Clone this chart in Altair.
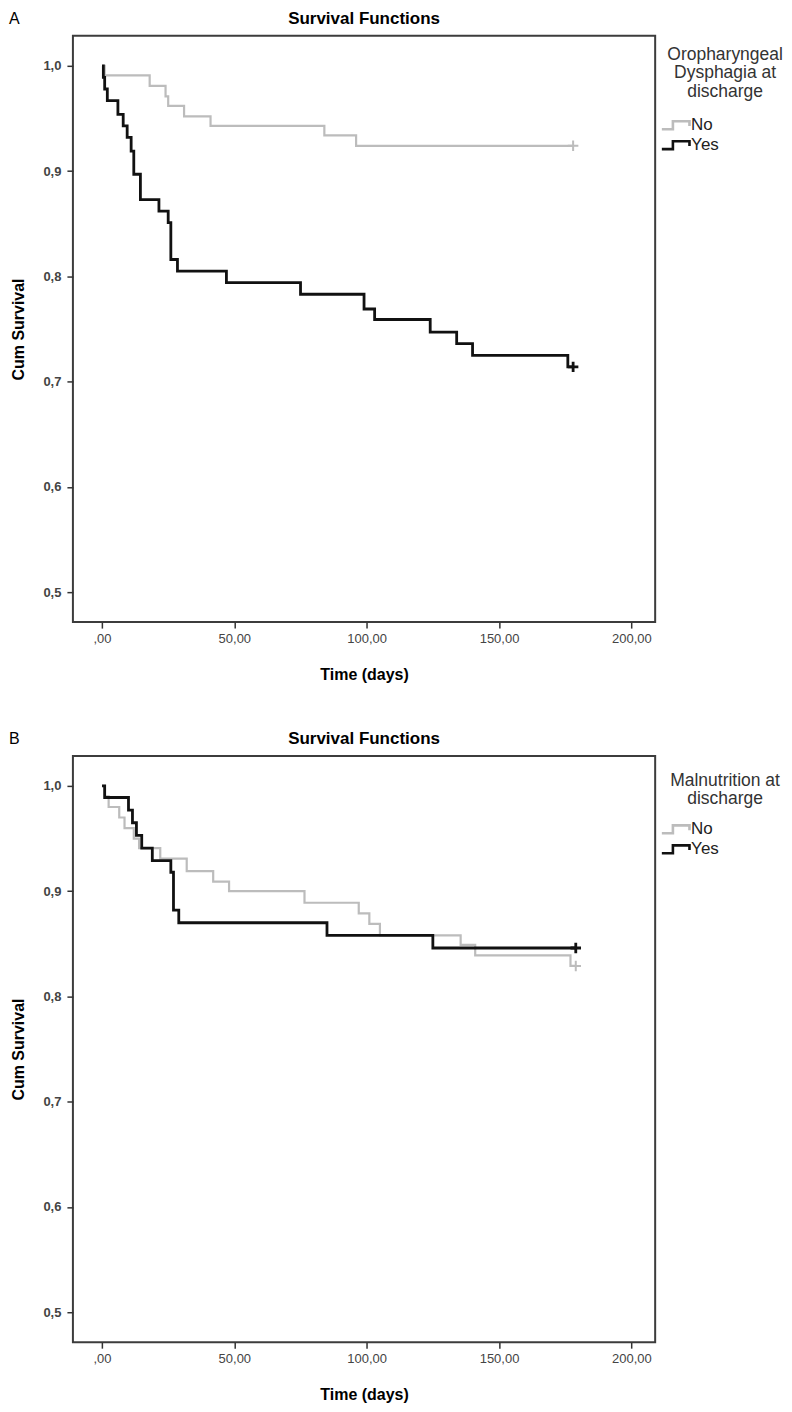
import altair as alt
import pandas as pd

# ---------------- data ----------------
panel_labels = ["A", "B"]
chart_title = "Survival Functions"
legend_titles = [["Oropharyngeal", "Dysphagia at", "discharge"],
                 ["Malnutrition at", "discharge"]]
groups = ["No", "Yes"]
x_ticks = [0, 50, 100, 150, 200]
y_ticks = [0.5, 0.6, 0.7, 0.8, 0.9, 1.0]

# Panel A - Oropharyngeal dysphagia at discharge
a_no_time = [0, 1, 18, 24, 25, 31, 41, 84, 96, 178]
a_no_surv = [1.0, 0.991, 0.981, 0.971, 0.962, 0.952, 0.943, 0.934, 0.924, 0.924]
a_yes_time = [0, 0.5, 1, 2, 6, 8, 9.5, 11, 12, 14.5, 21.5, 25, 26, 28.5, 47, 75,
              99, 103, 124, 134, 140, 176, 178]
a_yes_surv = [1.0, 0.989, 0.978, 0.967, 0.954, 0.943, 0.932, 0.919, 0.897, 0.873,
              0.862, 0.851, 0.816, 0.805, 0.794, 0.783, 0.769, 0.759, 0.747, 0.736,
              0.725, 0.714, 0.714]

# Panel B - Malnutrition at discharge
b_no_time = [0, 1, 2.5, 6.5, 8.5, 12, 14, 22, 32, 42, 48, 76.5, 97, 101, 105,
             135.5, 141, 177, 179]
b_no_surv = [1.0, 0.990, 0.980, 0.970, 0.960, 0.950, 0.941, 0.931, 0.919, 0.909,
             0.900, 0.889, 0.879, 0.869, 0.858, 0.849, 0.839, 0.829, 0.829]
b_yes_time = [0, 1, 10, 11.5, 13, 15, 19, 26, 27, 29, 85, 125, 179]
b_yes_surv = [1.0, 0.989, 0.977, 0.965, 0.953, 0.941, 0.929, 0.918, 0.882, 0.870,
              0.858, 0.846, 0.846]

FONT = "Liberation Sans, Arial, sans-serif"
GRAY = "#bcbcbc"
BLACK = "#111111"
W, H = 583, 587

x_label_expr = "datum.value == 0 ? ',00' : replace(format(datum.value, '.2f'), '.', ',')"
y_label_expr = "replace(format(datum.value, '.1f'), '.', ',')"


def panel(letter, ltitle, ltitle_y, entries_y, no_t, no_s, yes_t, yes_s):
    df_no = pd.DataFrame({"group": "No", "time": no_t, "surv": no_s})
    df_yes = pd.DataFrame({"group": "Yes", "time": yes_t, "surv": yes_s})

    x = alt.X("time:Q",
              scale=alt.Scale(domain=[-11, 209], nice=False, zero=False),
              axis=alt.Axis(values=x_ticks, labelExpr=x_label_expr,
                            title="Time (days)", titlePadding=21,
                            labelPadding=4, labelFontWeight="normal"))
    y = alt.Y("surv:Q",
              scale=alt.Scale(domain=[0.4715, 1.0285], nice=False, zero=False),
              axis=alt.Axis(values=y_ticks, labelExpr=y_label_expr,
                            title="Cum Survival", titlePadding=16,
                            labelPadding=6, labelFontWeight="bold"))
    color = alt.Color("group:N",
                      scale=alt.Scale(domain=groups, range=[GRAY, BLACK]),
                      legend=alt.Legend(title=None, orient="none",
                                        legendX=596, legendY=entries_y,
                                        symbolType="M-2,0.5L-0.6,0.5L-0.6,-0.5L1.5,-0.5L1.5,0.1",
                                        symbolSize=250, symbolStrokeWidth=2.6,
                                        labelOffset=4, rowPadding=1))

    no_line = (alt.Chart(df_no)
               .mark_line(interpolate="step-after", strokeWidth=2.2)
               .encode(x=x, y=y, color=color))
    yes_line = (alt.Chart(df_yes)
                .mark_line(interpolate="step-after", strokeWidth=2.8)
                .encode(x=x, y=y, color=color))
    plus = "M-1,0L1,0M0,-1L0,1"
    no_cens = (alt.Chart(df_no.tail(1))
               .mark_point(shape=plus, filled=False, size=110, strokeWidth=2,
                           color=GRAY, opacity=1)
               .encode(x=x, y=y))
    yes_cens = (alt.Chart(df_yes.tail(1))
                .mark_point(shape=plus, filled=False, size=110, strokeWidth=2.8,
                            color=BLACK, opacity=1)
                .encode(x=x, y=y))
    letter_txt = (alt.Chart(pd.DataFrame({"t": [letter]}))
                  .mark_text(align="left", baseline="middle", fontSize=16,
                             font=FONT, color="#000")
                  .encode(text="t:N", x=alt.value(-64), y=alt.value(-17)))
    title_txt = (alt.Chart(pd.DataFrame({"t": [chart_title]}))
                 .mark_text(align="center", baseline="middle", fontSize=17,
                            fontWeight="bold", font=FONT, color="#000")
                 .encode(text="t:N", x=alt.value(W / 2), y=alt.value(-17)))
    legend_title_txt = (alt.Chart(pd.DataFrame({"t": [0]}))
                        .mark_text(align="center", baseline="top", fontSize=17.5,
                                   font=FONT, color="#333", lineHeight=18.5)
                        .encode(text=alt.value(ltitle), x=alt.value(653),
                                y=alt.value(ltitle_y)))

    return (alt.layer(no_line, yes_line, no_cens, yes_cens, letter_txt,
                      title_txt, legend_title_txt)
            .properties(width=W, height=H))


chart_a = panel(panel_labels[0], legend_titles[0], 10, 80, a_no_time, a_no_surv,
                a_yes_time, a_yes_surv)
chart_b = panel(panel_labels[1], legend_titles[1], 16, 64, b_no_time, b_no_surv,
                b_yes_time, b_yes_surv)

chart = (alt.vconcat(chart_a, chart_b, spacing=46)
         .resolve_scale(color="independent")
         .resolve_legend(color="independent")
         .properties(padding=0)
         .configure_view(stroke="#3c3c3c", strokeWidth=2)
         .configure_axis(labelFont=FONT, labelFontSize=13, labelColor="#444",
                         titleFont=FONT, titleFontSize=16, titleFontWeight="bold",
                         titleColor="#000", tickColor="#333", tickWidth=1.5,
                         tickSize=6, domain=False, grid=False)
         .configure_legend(labelFont=FONT, labelFontSize=17,
                           labelColor="#222"))

chart.save("out.html", embed_options={"renderer": "svg", "actions": False})
